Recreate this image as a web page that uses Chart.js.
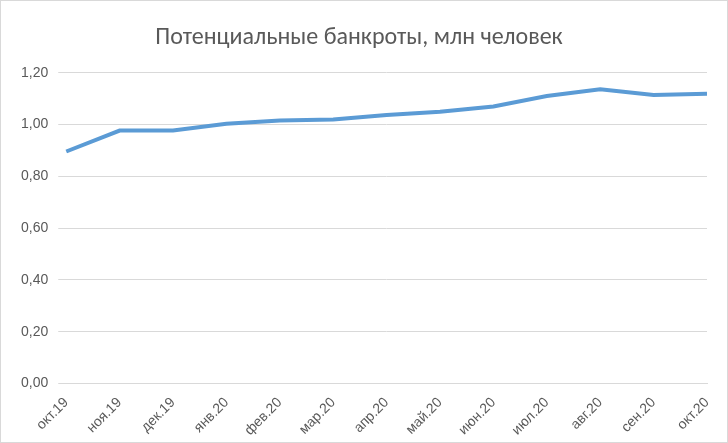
<!DOCTYPE html>
<html>
<head>
<meta charset="utf-8">
<script src="https://cdn.jsdelivr.net/npm/chart.js@4"></script>
<style>
  body { margin: 0; background: #fff; }
  #wrap { width: 728px; height: 443px; box-sizing: border-box; border: 1px solid #d9d9d9; }
</style>
</head>
<body>
<div id="wrap"><canvas id="bankChart" width="726" height="441"></canvas></div>
<script>
var months = ["окт.19","ноя.19","дек.19","янв.20","фев.20","мар.20","апр.20","май.20","июн.20","июл.20","авг.20","сен.20","окт.20"];
var bankrupts = [0.896, 0.977, 0.977, 1.003, 1.016, 1.020, 1.037, 1.050, 1.070, 1.110, 1.136, 1.114, 1.119];

var chart = new Chart("bankChart", {
  type: "line",
  data: {
    labels: months,
    datasets: [{
      label: "Потенциальные банкроты",
      data: bankrupts,
      borderColor: "#5b9bd5",
      borderWidth: 4,
      pointRadius: 0,
      tension: 0,
      fill: false
    }]
  },
  options: {
    responsive: false,
    animation: false,
    layout: {padding: {left: 10, right: 20, top: 5, bottom: 0}},
    plugins: {
      legend: {display: false},
      title: {
        display: true,
        text: "Потенциальные банкроты, млн человек",
        color: "#595959",
        font: {family: "Calibri, Carlito, 'Liberation Sans', sans-serif", size: 24, weight: "normal"},
        padding: {top: 18, bottom: 20}
      }
    },
    scales: {
      x: {
        grid: {display: false},
        border: {color: "#d9d9d9"},
        ticks: {color: "#595959", font: {size: 14}, maxRotation: 45, minRotation: 45, autoSkip: false}
      },
      y: {
        min: 0, max: 1.2,
        grid: {color: "#d9d9d9"},
        border: {display: false},
        ticks: {
          stepSize: 0.2, color: "#595959", font: {size: 14}, padding: 10,
          callback: function(v) { return v.toFixed(2).replace(".", ","); }
        }
      }
    }
  }
});
</script>
</body>
</html>
